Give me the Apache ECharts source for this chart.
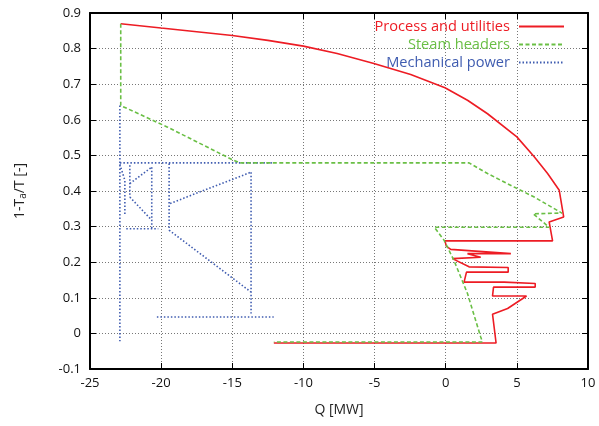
<!DOCTYPE html>
<html>
<head>
<meta charset="utf-8">
<script src="https://cdn.jsdelivr.net/npm/echarts@6/dist/echarts.min.js"></script>
<style>html,body{margin:0;padding:0;background:#fff}#c{width:599px;height:426px}</style>
</head>
<body>
<div id="c"></div>
<script>
// Process and utilities (red, solid)
const processQ = [-22.84, -20, -15, -12.5, -10, -7.63, -5.05, -2.46, -0.05, 1.53, 2.94, 5.0, 6.22, 7.16, 7.98, 8.29, 7.27, 7.51,
  -0.05, 0.04, 0.35, 4.58, 1.53, 2.46, 0.47, 1.64, 4.39, 4.39, 1.46, 1.29, 4.11, 4.11, 6.29, 6.29, 3.36, 3.29, 5.68, 5.68, 4.35, 3.29, 3.54, -12.08];
const processT = [0.870, 0.858, 0.837, 0.823, 0.807, 0.786, 0.758, 0.727, 0.690, 0.655, 0.617, 0.552, 0.496, 0.449, 0.402, 0.327, 0.313, 0.260,
  0.260, 0.245, 0.236, 0.224, 0.224, 0.214, 0.210, 0.187, 0.185, 0.172, 0.172, 0.144, 0.144, 0.139, 0.140, 0.130, 0.130, 0.105, 0.105, 0.100, 0.070, 0.054, -0.027, -0.027];

// Steam headers (green, dashed)
const steamQ = [-22.84, -22.84, -19.58, -14.9, -14.44, 1.64, 2.94, 4.81, 6.22, 8.17, 6.15, 7.27, -0.8, -0.12, 0.58, 1.53, 2.46, 2.58, -12.08];
const steamT = [0.870, 0.640, 0.580, 0.486, 0.479, 0.479, 0.449, 0.411, 0.383, 0.338, 0.336, 0.298, 0.298, 0.262, 0.205, 0.112, -0.010, -0.024, -0.024];

// Mechanical power (blue, dotted); null separates segments
const mechQ = [-22.9, -22.9, null,
  -22.9, -12.09, null,
  -22.9, -22.55, -22.55, null,
  -22.2, -22.2, null,
  -22.2, -20.66, null,
  -20.66, -20.66, null,
  -22.2, -20.66, null,
  -22.45, -20.2, null,
  -19.44, -19.44, null,
  -19.37, -13.68, null,
  -13.68, -13.68, null,
  -19.44, -13.68, null,
  -20.3, -12.09];
const mechT = [0.640, -0.022, null,
  0.479, 0.479, null,
  0.475, 0.43, 0.335, null,
  0.472, 0.383, null,
  0.421, 0.467, null,
  0.467, 0.294, null,
  0.383, 0.318, null,
  0.294, 0.294, null,
  0.477, 0.290, null,
  0.365, 0.453, null,
  0.453, 0.056, null,
  0.290, 0.116, null,
  0.046, 0.046];

const xTicks = [-25, 10, 5];      // min, max, interval
const yTicks = [-0.1, 0.9, 0.1];  // min, max, interval

const RED = '#ed1c24', GREEN = '#6abf45', BLUE = '#3f5cb0';
const FONT = 'Open Sans';

function zip(a, b) {
  return a.map((v, i) => (v === null || b[i] === null) ? ['-', '-'] : [v, b[i]]);
}

const gridLine = { show: true, lineStyle: { color: '#777', width: 1, type: [1, 2] } };
const frameLine = { show: true, onZero: false, lineStyle: { color: '#000', width: 2 } };

const chart = echarts.init(document.getElementById('c'), null, { renderer: 'canvas' });
chart.setOption({
  animation: false,
  backgroundColor: '#fff',
  textStyle: { fontFamily: FONT },
  grid: { left: 90, right: 11, top: 13, bottom: 57, containLabel: false },
  legend: {
    orient: 'vertical', right: 34, top: 19, padding: 0,
    align: 'right', itemWidth: 45, itemHeight: 14, itemGap: 3,
    itemStyle: { opacity: 0 },
    textStyle: { fontFamily: FONT, fontSize: 14.6, padding: [0, 4, 0, 0] },
    data: [
      { name: 'Process and utilities', textStyle: { color: RED } },
      { name: 'Steam headers', textStyle: { color: GREEN } },
      { name: 'Mechanical power', textStyle: { color: BLUE } }
    ]
  },
  xAxis: [{
    type: 'value', min: xTicks[0], max: xTicks[1], interval: xTicks[2],
    name: 'Q [MW]', nameLocation: 'middle', nameGap: 34,
    nameTextStyle: { fontFamily: FONT, fontSize: 14, color: '#222' },
    axisLine: frameLine,
    axisTick: { show: true, inside: true, length: 6, lineStyle: { color: '#000', width: 1 } },
    axisLabel: { fontFamily: FONT, fontSize: 13, color: '#111', margin: 8 },
    splitLine: gridLine
  }, {
    type: 'value', position: 'top', min: xTicks[0], max: xTicks[1], interval: xTicks[2],
    axisLine: frameLine,
    axisTick: { show: true, inside: true, length: 6, lineStyle: { color: '#000', width: 1 } },
    axisLabel: { show: false }, splitLine: { show: false }
  }],
  yAxis: [{
    type: 'value', min: yTicks[0], max: yTicks[1], interval: yTicks[2],
    name: '1-T{sub|a}/T [-]', nameLocation: 'middle', nameGap: 62,
    nameTextStyle: { fontFamily: FONT, fontSize: 14, color: '#222',
      rich: { sub: { fontFamily: FONT, fontSize: 10, color: '#222', verticalAlign: 'bottom', padding: [6, 0, 0, 0] } } },
    axisLine: frameLine,
    axisTick: { show: true, inside: true, length: 6, lineStyle: { color: '#000', width: 1 } },
    axisLabel: { fontFamily: FONT, fontSize: 13, color: '#111', margin: 9,
      formatter: v => String(Math.round(v * 10) / 10) },
    splitLine: gridLine
  }, {
    type: 'value', position: 'right', min: yTicks[0], max: yTicks[1], interval: yTicks[2],
    axisLine: frameLine,
    axisTick: { show: true, inside: true, length: 6, lineStyle: { color: '#000', width: 1 } },
    axisLabel: { show: false }, splitLine: { show: false }
  }],
  series: [{
    name: 'Process and utilities', type: 'line', symbol: 'none',
    data: zip(processQ, processT),
    lineStyle: { color: RED, width: 1.6 }, itemStyle: { color: RED }, z: 4
  }, {
    name: 'Steam headers', type: 'line', symbol: 'none',
    data: zip(steamQ, steamT),
    lineStyle: { color: GREEN, width: 1.6, type: [4, 2.5] }, itemStyle: { color: GREEN }, z: 5
  }, {
    name: 'Mechanical power', type: 'line', symbol: 'none', connectNulls: false,
    data: zip(mechQ, mechT),
    lineStyle: { color: BLUE, width: 1.6, type: [1.5, 2] }, itemStyle: { color: BLUE }, z: 3
  }]
});
</script>
</body>
</html>
